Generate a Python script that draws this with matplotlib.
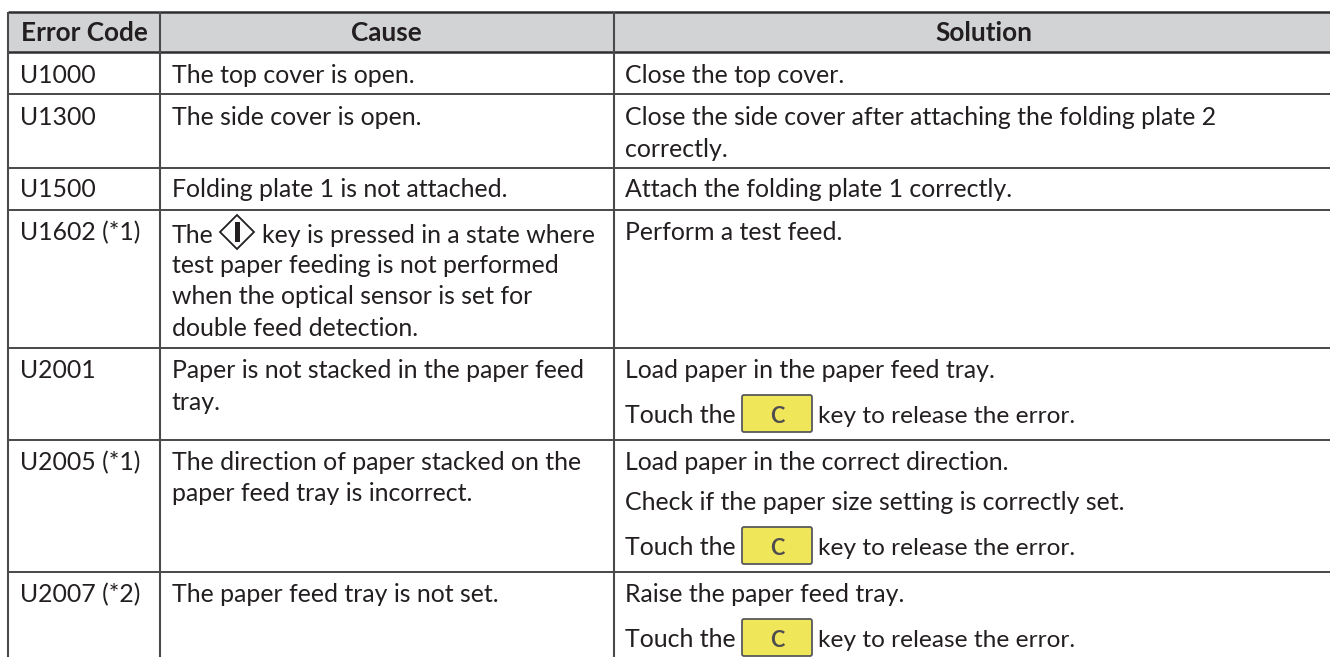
import matplotlib
matplotlib.use("Agg")
import matplotlib.pyplot as plt
from matplotlib.patches import Rectangle, FancyBboxPatch, Polygon

plt.rcParams['font.family'] = ['Lato', 'DejaVu Sans']

# table contents
headers = ["Error Code", "Cause", "Solution"]
codes = ["U1000", "U1300", "U1500", "U1602 (*1)", "U2001", "U2005 (*1)", "U2007 (*2)"]
causes = [
    ["The top cover is open."],
    ["The side cover is open."],
    ["Folding plate 1 is not attached."],
    ["key is pressed in a state where", "test paper feeding is not performed",
     "when the optical sensor is set for", "double feed detection."],
    ["Paper is not stacked in the paper feed", "tray."],
    ["The direction of paper stacked on the", "paper feed tray is incorrect."],
    ["The paper feed tray is not set."],
]
solutions = [
    ["Close the top cover."],
    ["Close the side cover after attaching the folding plate 2", "correctly."],
    ["Attach the folding plate 1 correctly."],
    ["Perform a test feed."],
    ["Load paper in the paper feed tray.", "@key"],
    ["Load paper in the correct direction.", "Check if the paper size setting is correctly set.", "@key"],
    ["Raise the paper feed tray.", "@key"],
]

# pixel layout, baselines
W, H = 1330, 657
col_x = [8, 160, 614]
row_y = [12, 52, 94, 168, 210, 348, 440, 572]
code_base = [83, 125, 197, 240, 378, 470, 602]
cause_base = [[83], [125], [197], [243, 273, 304, 336], [378, 410], [470, 501], [602]]
sol_base = [[83], [125, 157], [197], [240], [378, 423], [470, 510, 555], [602, 647]]
TXT = "#231f20"
FS = 17.9

fig = plt.figure(figsize=(W / 100, H / 100), dpi=100)
ax = fig.add_axes([0, 0, 1, 1])
ax.set_xlim(0, W)
ax.set_ylim(H, 0)
ax.axis("off")

# header band
ax.add_patch(Rectangle((col_x[0], row_y[0]), W - col_x[0], row_y[1] - row_y[0], fc="#d1d3d4", ec="none"))

# grid lines
for y in row_y:
    lw = 1.8 if y in (12, 52) else 1.4
    ax.plot([col_x[0], W], [y, y], color="#2f2f31" if y in (12, 52) else "#474749", lw=lw, solid_capstyle="butt")
for x in col_x:
    ax.plot([x, x], [row_y[0], H], color="#4a4a4c", lw=1.5, solid_capstyle="butt")

# headers
for label, x in zip(headers, [84, 386, 984]):
    ax.text(x, 41, label, ha="center", va="baseline", fontsize=18.8, fontweight="bold", color=TXT)


def draw_key(base):
    # yellow C key in the text line
    ax.add_patch(FancyBboxPatch((742, base - 28), 70, 37, boxstyle="round,pad=0,rounding_size=2",
                                fc="#f0e65a", ec="#58595b", lw=1.3))
    ax.text(777, base, "C", ha="center", va="baseline", fontsize=15.5, fontweight="bold", color="#4d4d4f")


for i, code in enumerate(codes):
    ax.text(20, code_base[i], code, va="baseline", fontsize=FS, color=TXT)

    for j, line in enumerate(causes[i]):
        x = 262 if (i == 3 and j == 0) else 172
        ax.text(x, cause_base[i][j], line, va="baseline", fontsize=FS, color=TXT)

    for j, line in enumerate(solutions[i]):
        base = sol_base[i][j]
        if line == "@key":
            ax.text(625, base, "Touch the", va="baseline", fontsize=FS, color=TXT)
            draw_key(base)
            ax.text(818, base, "key to release the error.", va="baseline", fontsize=17.6, color=TXT)
        else:
            ax.text(625, base, line, va="baseline", fontsize=FS, color=TXT)

# start key symbol in U1602 cause
ax.text(172, cause_base[3][0], "The", va="baseline", fontsize=FS, color=TXT)
cx, cy = 237, 232
ax.add_patch(Polygon([(cx - 17, cy), (cx, cy - 17), (cx + 17, cy), (cx, cy + 17)], closed=True, fc="white", ec=TXT, lw=1.3))
ax.add_patch(Rectangle((cx - 2.5, cy - 10), 5, 20, fc=TXT, ec="none"))

fig.savefig("out.png", dpi=100)
